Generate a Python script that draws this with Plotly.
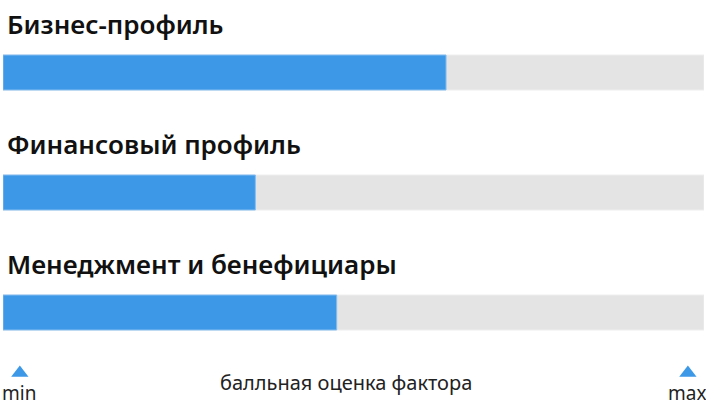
import plotly.graph_objects as go

factors = ['Бизнес-профиль', 'Финансовый профиль', 'Менеджмент и бенефициары']
scores = [0.632, 0.36, 0.476]
max_score = 1.0
axis_label = 'балльная оценка фактора'
end_labels = ['min', 'max']

row_step = 120
first_bar = 72.5

bar_y = [first_bar + i * row_step for i in range(len(factors))]

fig = go.Figure()

# grey tracks
fig.add_trace(go.Bar(
    x=[max_score] * len(factors), y=bar_y, orientation='h', width=35,
    marker=dict(color='#e4e4e4', line=dict(color='#eeeeee', width=1)),
    hoverinfo='skip', showlegend=False))

# scores
fig.add_trace(go.Bar(
    x=scores, y=bar_y, orientation='h', width=35,
    marker=dict(color='#3d99e8', line=dict(color='#86bdf0', width=1)),
    showlegend=False))

# min / max markers
fig.add_trace(go.Scatter(
    x=[0.024, 0.977], y=[373, 373], mode='markers',
    marker=dict(symbol='triangle-up', size=15, color='#3d99e8'),
    hoverinfo='skip', showlegend=False))

for name, yy in zip(factors, bar_y):
    fig.add_annotation(x=0, y=yy - 49, xref='paper', yref='y', text=name,
                       showarrow=False, xanchor='left', yanchor='middle', xshift=2,
                       font=dict(family='Noto Sans', size=26, color='#111111', weight=600))

fig.add_annotation(x=0, y=393, xref='paper', yref='y', text=end_labels[0],
                   showarrow=False, xanchor='left', yanchor='middle', xshift=-3,
                   font=dict(family='Noto Sans', size=19, color='#222222'))
fig.add_annotation(x=1, y=393, xref='paper', yref='y', text=end_labels[1],
                   showarrow=False, xanchor='right', yanchor='middle', xshift=4,
                   font=dict(family='Noto Sans', size=19, color='#222222'))
fig.add_annotation(x=0.49, y=382, xref='paper', yref='y', text=axis_label,
                   showarrow=False, xanchor='center', yanchor='middle',
                   font=dict(family='Noto Sans', size=20, color='#222222'))

fig.update_layout(
    width=706, height=412,
    margin=dict(l=3, r=2, t=0, b=0),
    barmode='overlay',
    paper_bgcolor='white', plot_bgcolor='white',
    xaxis=dict(range=[0, 1], visible=False, fixedrange=True),
    yaxis=dict(range=[412, 0], visible=False, fixedrange=True),
)

fig.write_html('out.html', config={'displayModeBar': False},
               post_script="document.body.style.margin='0';")
